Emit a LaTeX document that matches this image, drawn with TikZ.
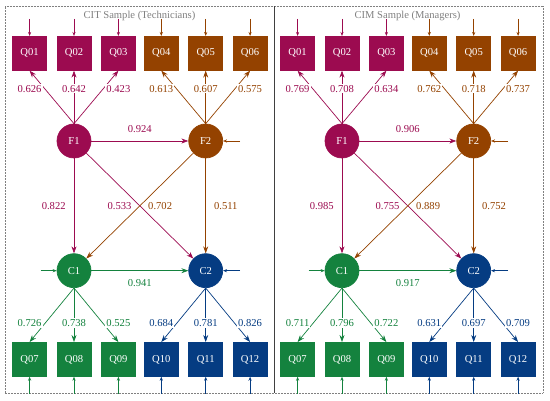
\documentclass[tikz,border=0pt]{standalone}
\usepackage{fontspec}
\setmainfont{Liberation Serif}
\usetikzlibrary{positioning}
\usetikzlibrary{arrows.meta}

\definecolor{fone}{HTML}{9C0B50}
\definecolor{ftwo}{HTML}{944200}
\definecolor{cone}{HTML}{14823E}
\definecolor{ctwo}{HTML}{053C82}

\begin{document}
\begin{tikzpicture}[
                x=1pt, y=1pt,
                node distance=53pt and 9.7pt,
                every node/.style={font=\fontsize{10.6}{12}\selectfont},
                box/.style={draw=#1, fill=#1, text=white, minimum width=34pt, minimum height=34pt, inner sep=0pt},
                latent/.style={circle, draw=#1, fill=#1, text=white, minimum size=34pt, inner sep=0pt},
                load/.style={fill=white, inner sep=1pt, text=#1},
                err/.style={-{Stealth[length=4pt, width=3.2pt]}},
                >={Stealth[length=7pt, width=5pt]},
                line width=0.7pt
            ]

            % Frame and divider
            \useasboundingbox (0,0) rectangle (550,401);
            \draw[gray, densely dotted, line width=0.5pt] (5,8) rectangle (543,395);
            \draw[darkgray, line width=0.6pt] (274,8) -- (274,395);

            \foreach \p/\dx/\ttl/\ta/\tb/\ba/\bb/\ff/\fa/\fb/\fc/\fd/\cc in {
                L/0/{CIT Sample (Technicians)}/{0.626,0.642,0.423}/{0.613,0.607,0.575}/{0.726,0.738,0.525}/{0.684,0.781,0.826}/0.924/0.822/0.533/0.702/0.511/0.941,
                R/268/{CIM Sample (Managers)}/{0.769,0.708,0.634}/{0.762,0.718,0.737}/{0.711,0.796,0.722}/{0.631,0.697,0.709}/0.906/0.985/0.755/0.889/0.752/0.917}
            {
            \begin{scope}[xshift=\dx]

            % Define latent nodes
            \node[latent=fone] (\p-F1) at (74,260) {F1};
            \node[latent=ftwo, right=97pt of \p-F1] (\p-F2) {F2};
            \node[latent=cone, below=95pt of \p-F1] (\p-C1) {C1};
            \node[latent=ctwo, below=95pt of \p-F2] (\p-C2) {C2};
            \node[text=gray] (\p-title) at (139.5,385) {\ttl};

            % Item boxes
            \node[box=fone, above=of \p-F1] (\p-Q02) {Q02};
            \node[box=fone, left=of \p-Q02] (\p-Q01) {Q01};
            \node[box=fone, right=of \p-Q02] (\p-Q03) {Q03};
            \node[box=ftwo, above=of \p-F2] (\p-Q05) {Q05};
            \node[box=ftwo, left=of \p-Q05] (\p-Q04) {Q04};
            \node[box=ftwo, right=of \p-Q05] (\p-Q06) {Q06};
            \node[box=cone, below=54pt of \p-C1] (\p-Q08) {Q08};
            \node[box=cone, left=of \p-Q08] (\p-Q07) {Q07};
            \node[box=cone, right=of \p-Q08] (\p-Q09) {Q09};
            \node[box=ctwo, below=54pt of \p-C2] (\p-Q11) {Q11};
            \node[box=ctwo, left=of \p-Q11] (\p-Q10) {Q10};
            \node[box=ctwo, right=of \p-Q11] (\p-Q12) {Q12};

            % Loadings with error terms
            \foreach \v [count=\i] in \ta {
                \coordinate[above=17pt of \p-Q0\i] (\p-e0\i);
                \draw[err, fone] (\p-e0\i) -- (\p-Q0\i);
                \draw[->, fone] (\p-F1.north) -- (\p-Q0\i.south);
                \node[load=fone] (\p-l0\i) at ([yshift=-18pt]\p-Q0\i.south) {\v};
            }
            \foreach \v [count=\i from 4] in \tb {
                \coordinate[above=17pt of \p-Q0\i] (\p-e0\i);
                \draw[err, ftwo] (\p-e0\i) -- (\p-Q0\i);
                \draw[->, ftwo] (\p-F2.north) -- (\p-Q0\i.south);
                \node[load=ftwo] (\p-l0\i) at ([yshift=-18pt]\p-Q0\i.south) {\v};
            }
            \foreach \v [count=\i from 7] in \ba {
                \coordinate[below=17pt of \p-Q0\i] (\p-e0\i);
                \draw[err, cone] (\p-e0\i) -- (\p-Q0\i);
                \draw[->, cone] (\p-C1.south) -- (\p-Q0\i.north);
                \node[load=cone] (\p-l0\i) at ([yshift=19pt]\p-Q0\i.north) {\v};
            }
            \foreach \v [count=\i from 10] in \bb {
                \coordinate[below=17pt of \p-Q\i] (\p-e\i);
                \draw[err, ctwo] (\p-e\i) -- (\p-Q\i);
                \draw[->, ctwo] (\p-C2.south) -- (\p-Q\i.north);
                \node[load=ctwo] (\p-l\i) at ([yshift=19pt]\p-Q\i.north) {\v};
            }

            % Structural paths
            \draw[->, fone] (\p-F1) -- (\p-F2) node[load=fone, midway, above=7pt] (\p-lff) {\ff};
            \draw[->, fone] (\p-F1) -- (\p-C1) node[load=fone, midway, left=7pt] (\p-lfa) {\fa};
            \draw[->, fone] (\p-F1) -- (\p-C2) node[load=fone, midway, left=7pt] (\p-lfb) {\fb};
            \draw[->, ftwo] (\p-F2) -- (\p-C1) node[load=ftwo, midway, right=7pt] (\p-lfc) {\fc};
            \draw[->, ftwo] (\p-F2) -- (\p-C2) node[load=ftwo, midway, right=7pt] (\p-lfd) {\fd};
            \draw[->, cone] (\p-C1) -- (\p-C2) node[load=cone, midway, below=7pt] (\p-lcc) {\cc};

            % Disturbances of the latent nodes
            \coordinate[right=17pt of \p-F2] (\p-dF2);
            \coordinate[left=16pt of \p-C1] (\p-dC1);
            \coordinate[right=17pt of \p-C2] (\p-dC2);
            \draw[err, ftwo] (\p-dF2) -- (\p-F2);
            \draw[err, cone] (\p-dC1) -- (\p-C1);
            \draw[err, ctwo] (\p-dC2) -- (\p-C2);

            \end{scope}
            }

        \end{tikzpicture}
\end{document}
